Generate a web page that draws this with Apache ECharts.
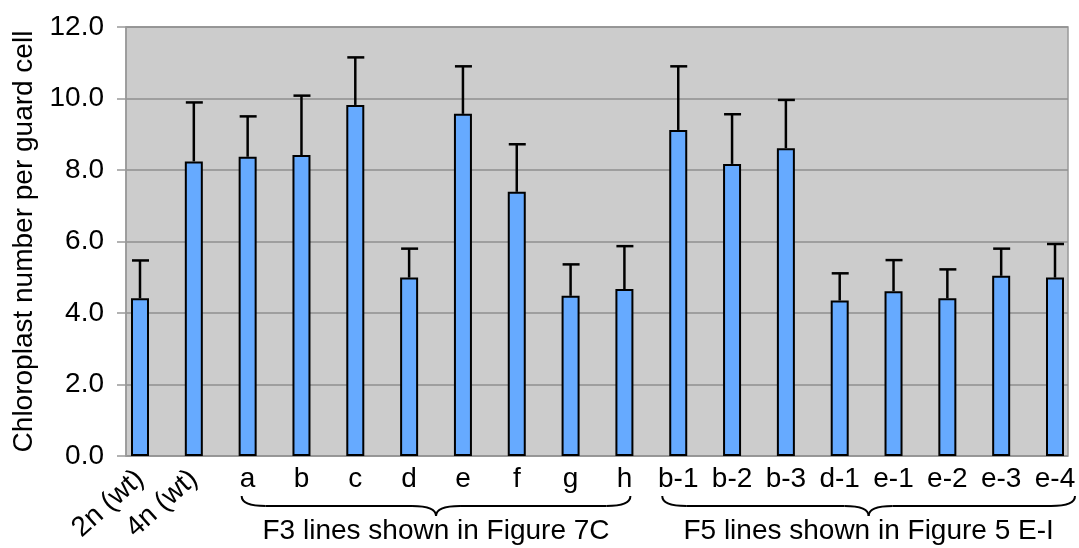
<!DOCTYPE html>
<html>
<head>
<meta charset="utf-8">
<script src="https://cdn.jsdelivr.net/npm/echarts@6/dist/echarts.min.js"></script>
<style>
html,body{margin:0;padding:0;background:#fff;}
#c{width:1079px;height:548px;}
</style>
</head>
<body>
<div id="c"></div>
<script>
const categories = ['2n (wt)','4n (wt)','a','b','c','d','e','f','g','h','b-1','b-2','b-3','d-1','e-1','e-2','e-3','e-4'];
const meanValues = [4.41,8.24,8.37,8.42,9.82,4.99,9.57,7.39,4.48,4.67,9.12,8.17,8.61,4.35,4.61,4.41,5.04,4.99];
const sdValues =   [1.06,1.65,1.13,1.66,1.33,0.81,1.33,1.33,0.88,1.20,1.78,1.39,1.35,0.76,0.87,0.81,0.76,0.94];
const yTicks = [0,2,4,6,8,10,12];
const rotatedLabels = ['2n (wt)','4n (wt)'];
const groupF3 = {label:'F3 lines shown in Figure 7C', from:'a', to:'h'};
const groupF5 = {label:'F5 lines shown in Figure 5 E-I', from:'b-1', to:'e-4'};

const FONT = '"Liberation Sans", Arial, sans-serif';
const chart = echarts.init(document.getElementById('c'), null, {renderer:'canvas'});

const errData = meanValues.map((m,i)=>[i, m, m + sdValues[i]]);

const option = {
  animation:false,
  textStyle:{fontFamily:FONT},
  grid:[
    {left:126, right:11, top:27, bottom:92, show:true, backgroundColor:'#cccccc', borderColor:'#999999', borderWidth:1.5},
    {left:140, right:24, top:27, bottom:92}
  ],
  xAxis:[
    {gridIndex:0, type:'category', data:[''], show:false},
    {gridIndex:1, type:'category', data:categories, boundaryGap:false, position:'bottom',
      axisLine:{show:false}, axisTick:{show:false},
      axisLabel:{interval:0, margin:9, fontSize:28, color:'#000', fontFamily:FONT,
        formatter:v=> rotatedLabels.includes(v) ? '' : v}},
    {gridIndex:1, type:'category', data:categories, boundaryGap:false, position:'bottom', offset:0,
      axisLine:{show:false}, axisTick:{show:false},
      axisLabel:{interval:0, rotate:42, margin:19, fontSize:28, color:'#000', fontFamily:FONT,
        formatter:v=> rotatedLabels.includes(v) ? v : ''}}
  ],
  yAxis:[
    {gridIndex:0, type:'value', min:yTicks[0], max:yTicks[yTicks.length-1], interval:2,
      name:'Chloroplast number per guard cell', nameLocation:'middle', nameGap:86,
      nameTextStyle:{fontSize:28, color:'#000', fontFamily:FONT},
      axisLine:{show:true, lineStyle:{color:'#999999', width:1.5}},
      axisTick:{show:true, length:9, lineStyle:{color:'#999999', width:1.5}},
      axisLabel:{fontSize:28, color:'#000', margin:22, fontFamily:FONT, formatter:v=>v.toFixed(1)},
      splitLine:{show:true, lineStyle:{color:'#8f8f8f', width:1.5}}},
    {gridIndex:1, type:'value', min:yTicks[0], max:yTicks[yTicks.length-1], interval:2, show:false, splitLine:{show:false}}
  ],
  series:[
    {type:'bar', xAxisIndex:1, yAxisIndex:1, data:meanValues, barWidth:18,
      itemStyle:{color:'#66aaff', borderColor:'#000', borderWidth:2}},
    {type:'custom', xAxisIndex:1, yAxisIndex:1, data:errData, z:5,
      renderItem:(params, api)=>{
        const p0 = api.coord([api.value(0), api.value(1)]);
        const p1 = api.coord([api.value(0), api.value(2)]);
        const st = {stroke:'#000', lineWidth:2.5};
        return {type:'group', children:[
          {type:'line', shape:{x1:p0[0], y1:p0[1], x2:p1[0], y2:p1[1]}, style:st},
          {type:'line', shape:{x1:p1[0]-8, y1:p1[1], x2:p1[0]+9, y2:p1[1]}, style:st}
        ]};
      }}
  ]
};
chart.setOption(option);

function braceParts(xL, xR, yTop, yMid, yTip){
  const xc = (xL + xR)/2, r = 24;
  const st = {stroke:'#000', lineWidth:2, fill:null};
  return [
    {type:'bezierCurve', shape:{x1:xL, y1:yTop, cpx1:xL, cpy1:yMid, x2:xL+r, y2:yMid}, style:st},
    {type:'line', shape:{x1:xL+r, y1:yMid, x2:xc-r, y2:yMid}, style:st},
    {type:'bezierCurve', shape:{x1:xc-r, y1:yMid, cpx1:xc, cpy1:yMid, x2:xc, y2:yTip}, style:st},
    {type:'bezierCurve', shape:{x1:xc, y1:yTip, cpx1:xc, cpy1:yMid, x2:xc+r, y2:yMid}, style:st},
    {type:'line', shape:{x1:xc+r, y1:yMid, x2:xR-r, y2:yMid}, style:st},
    {type:'bezierCurve', shape:{x1:xR-r, y1:yMid, cpx1:xR, cpy1:yMid, x2:xR, y2:yTop}, style:st}
  ];
}
const px = c => chart.convertToPixel({xAxisIndex:1}, c);
const g3L = px(groupF3.from) - 6, g3R = px(groupF3.to) + 6;
const g5L = px(groupF5.from) - 16, g5R = px(groupF5.to) + 20;
chart.setOption({graphic:[
  ...braceParts(g3L, g3R, 496, 506, 516),
  ...braceParts(g5L, g5R, 496, 506, 516),
  {type:'text', x:(g3L+g3R)/2, y:531, style:{text:groupF3.label, font:'28px '+FONT, fill:'#000', textAlign:'center', textVerticalAlign:'middle'}},
  {type:'text', x:(g5L+g5R)/2, y:531, style:{text:groupF5.label, font:'28px '+FONT, fill:'#000', textAlign:'center', textVerticalAlign:'middle'}}
]});
</script>
</body>
</html>
